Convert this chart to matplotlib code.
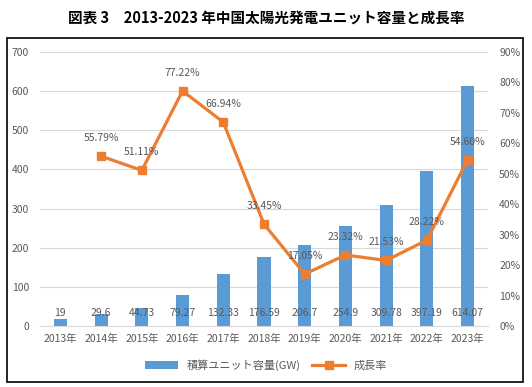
import matplotlib.pyplot as plt
from matplotlib.patches import Rectangle

plt.rcParams['font.family'] = ['Noto Sans CJK JP', 'DejaVu Sans']

years = ['2013年', '2014年', '2015年', '2016年', '2017年', '2018年',
         '2019年', '2020年', '2021年', '2022年', '2023年']
capacity = [19, 29.6, 44.73, 79.27, 132.33, 176.59, 206.7, 254.9, 309.78, 397.19, 614.07]
cap_labels = ['19', '29.6', '44.73', '79.27', '132.33', '176.59', '206.7', '254.9',
              '309.78', '397.19', '614.07']
growth = [None, 55.79, 51.11, 77.22, 66.94, 33.45, 17.05, 23.32, 21.53, 28.22, 54.60]

blue = '#5B9BD5'
orange = '#ED7D31'
grey = '#595959'

fig = plt.figure(figsize=(5.32, 3.87), dpi=100)
fig.patches.append(Rectangle((7 / 532, 1 - 382 / 387), 516 / 532, 344 / 387,
                             transform=fig.transFigure, fill=False,
                             edgecolor='black', linewidth=1.2))
fig.text(0.5, 1 - 18 / 387, '図表 3　2013-2023 年中国太陽光発電ユニット容量と成長率',
         ha='center', va='center', fontsize=10.5, fontweight='bold')

ax = fig.add_axes([40 / 532, 1 - 326 / 387, 448 / 532, 274 / 387])
x = list(range(len(years)))
bars = ax.bar(x, capacity, width=0.32, color=blue, label='積算ユニット容量(GW)', zorder=2)
ax.set_ylim(0, 700)
ax.set_xlim(-0.5, len(years) - 0.5)
ax.set_yticks(range(0, 701, 100))
ax.set_xticks(x)
ax.set_xticklabels(years)
ax.grid(axis='y', color='#D9D9D9', linewidth=0.8, zorder=0)
for s in ax.spines.values():
    s.set_visible(False)
ax.spines['bottom'].set_visible(True)
ax.spines['bottom'].set_color('#D9D9D9')
ax.tick_params(length=0, colors=grey, labelsize=7.5)
ax.tick_params(axis='x', pad=6)
ax.tick_params(axis='y', pad=8)
for xi, lab in zip(x, cap_labels):
    ax.text(xi, 34, lab, ha='center', va='center', fontsize=7.5, color=grey, zorder=4)

ax2 = ax.twinx()
gx = [xi for xi, g in zip(x, growth) if g is not None]
gy = [g for g in growth if g is not None]
line, = ax2.plot(gx, gy, color=orange, linewidth=2.3, marker='s', markersize=6,
                 label='成長率', zorder=3)
ax2.set_ylim(0, 90)
ax2.set_yticks(range(0, 91, 10))
ax2.set_yticklabels([f'{v}%' for v in range(0, 91, 10)])
for s in ax2.spines.values():
    s.set_visible(False)
ax2.tick_params(length=0, colors=grey, labelsize=7.5, pad=8)
for xi, g in zip(gx, gy):
    ax2.annotate(f'{g:.2f}%', (xi, g), xytext=(0, 13), textcoords='offset points',
                 ha='center', va='center', fontsize=7.5, color=grey)

fig.legend([bars, line], ['積算ユニット容量(GW)', '成長率'], loc='center',
           bbox_to_anchor=(0.5, 1 - 365 / 387), ncol=2, frameon=False,
           fontsize=8, handlelength=3, labelcolor=grey, columnspacing=1.0)

fig.savefig('out.png', dpi=100)
